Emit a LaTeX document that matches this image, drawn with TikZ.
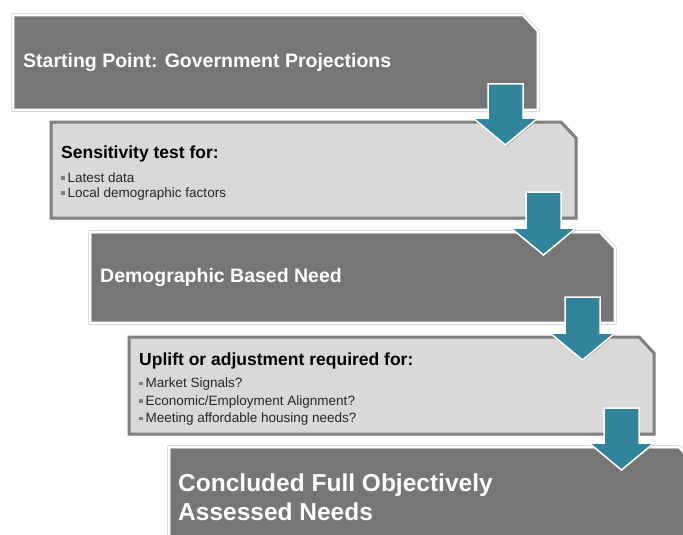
\documentclass[tikz,border=0pt]{standalone}
\usepackage{fontspec}
\setmainfont{Liberation Sans}
\usepackage{tikz}
\usetikzlibrary{calc,shadows}
\definecolor{boxdark}{HTML}{767676}
\definecolor{boxlight}{HTML}{D9D9D9}
\definecolor{boxedge}{HTML}{7F7F7F}
\definecolor{arrowteal}{HTML}{31849B}
\definecolor{bullettext}{HTML}{262626}
\tikzset{
  stagebox/.style={rectangle, minimum width=525pt, inner sep=0pt,
    outer sep=0pt, anchor=west},
  darkstage/.style={fill=boxdark, draw=black!22, line width=0.6pt,
    double=white, double distance=2pt,
    drop shadow={opacity=0.25, shadow xshift=1pt, shadow yshift=-1.5pt}},
  lightstage/.style={fill=boxlight, draw=boxedge, line width=3pt,
    drop shadow={opacity=0.3, shadow xshift=1pt, shadow yshift=-1.5pt}},
  flowarrow/.style={fill=arrowteal, draw=white, line width=1.5pt,
    drop shadow={opacity=0.35, shadow xshift=1pt, shadow yshift=-1.5pt}},
  darklabel/.style={anchor=west, align=left, inner sep=0pt, text=white,
    font=\fontsize{19.5}{22}\selectfont\bfseries},
  biglabel/.style={darklabel, font=\fontsize{24.5}{28.5}\selectfont\bfseries},
  lightlabel/.style={anchor=west, align=left, inner sep=0pt, text=bullettext,
    font=\fontsize{13.5}{16}\selectfont},
}
\newcommand{\sqbullet}{\textcolor{boxedge}{\rule[2.5pt]{3.5pt}{3.5pt}}\hspace{3pt}}
\newcommand{\stagetitle}[1]{{\fontsize{17.5}{20}\selectfont\bfseries\color{black}#1}}

\begin{document}
\begin{tikzpicture}[x=1pt,y=-1pt]

  \useasboundingbox (0,0) rectangle (683,535);
  \clip (0,0) rectangle (683,535);

  % the five stages
  \node[stagebox, minimum height=95pt] (b1) at (13,62.5) {};
  \node[stagebox, minimum height=96pt] (b2) at (51,170) {};
  \node[stagebox, minimum height=91pt] (b3) at (90,277.5) {};
  \node[stagebox, minimum height=97pt] (b4) at (129,385.5) {};
  \node[stagebox, minimum height=100pt] (b5) at (169,497) {};

  % cut top right corner
  \foreach \n/\s in {b1/darkstage,b2/lightstage,b3/darkstage,b4/lightstage,b5/darkstage}
    \draw[\s] (\n.south west) -- (\n.north west) -- ($(\n.north east)+(-15,0)$)
      -- ($(\n.north east)+(0,16)$) -- (\n.south east) -- cycle;

  % block arrows between the stages
  \foreach \a/\b in {b1/b2,b2/b3,b3/b4,b4/b5}
    \draw[flowarrow] ($(\a.south east |- \b.north)+(-32.5,23)$) -- ++(32.5,-27)
      -- ++(-15,0) |- ($(\a.south east)+(-50,-26)$)
      |- ($(\a.south east |- \b.north)+(-65,-4)$) -- cycle;

  % texts
  \node[darklabel] (t1) at ([xshift=10pt]b1.west) {Starting Point: Government Projections};
  \node[lightlabel] (t2) at ([xshift=10pt,yshift=-3pt]b2.west)
    {\stagetitle{Sensitivity test for:}\\[8pt]
     \sqbullet Latest data\\[-1pt]
     \sqbullet Local demographic factors};
  \node[darklabel] (t3) at ([xshift=10pt]b3.west) {Demographic Based Need};
  \node[lightlabel] (t4) at ([xshift=10pt,yshift=-4pt]b4.west)
    {\stagetitle{Uplift or adjustment required for:}\\[6pt]
     \sqbullet Market Signals?\\[1.5pt]
     \sqbullet Economic/Employment Alignment?\\[1.5pt]
     \sqbullet Meeting affordable housing needs?};
  \node[biglabel] (t5) at ([xshift=9pt]b5.west) {Concluded Full Objectively\\Assessed Needs};

\end{tikzpicture}
\end{document}
